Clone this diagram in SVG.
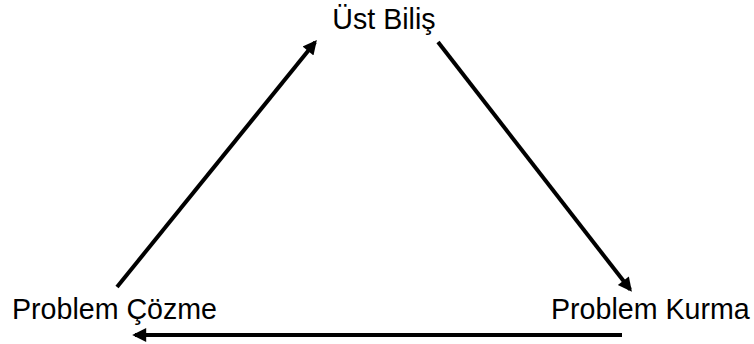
<svg xmlns="http://www.w3.org/2000/svg" width="754" height="344" viewBox="0 0 754 344">
<style>
text{font-family:"Liberation Sans",Arial,sans-serif;font-size:28.6px;fill:#000}
.c{stroke:#000;stroke-width:4;fill:none}
</style>
<defs>
<marker id="ah" viewBox="0 0 10 10" refX="8" refY="5" markerWidth="4" markerHeight="3.5" markerUnits="strokeWidth" orient="auto">
<path d="M0,0 L10,5 L0,10 Z" fill="#000"/>
</marker>
</defs>
<rect width="754" height="344" fill="#fff"/>
<g id="connectors">
<line class="c" x1="117" y1="287" x2="315.1" y2="42.3" marker-end="url(#ah)"/>
<line class="c" x1="438" y1="42" x2="630.2" y2="289.6" marker-end="url(#ah)"/>
<line class="c" x1="622" y1="335" x2="135" y2="335" marker-end="url(#ah)"/>
</g>
<g id="ust-bilis"><text x="384" y="29" text-anchor="middle">Üst Biliş</text></g>
<g id="problem-cozme"><text x="12" y="319">Problem Çözme</text></g>
<g id="problem-kurma"><text x="551" y="319">Problem Kurma</text></g>
</svg>
